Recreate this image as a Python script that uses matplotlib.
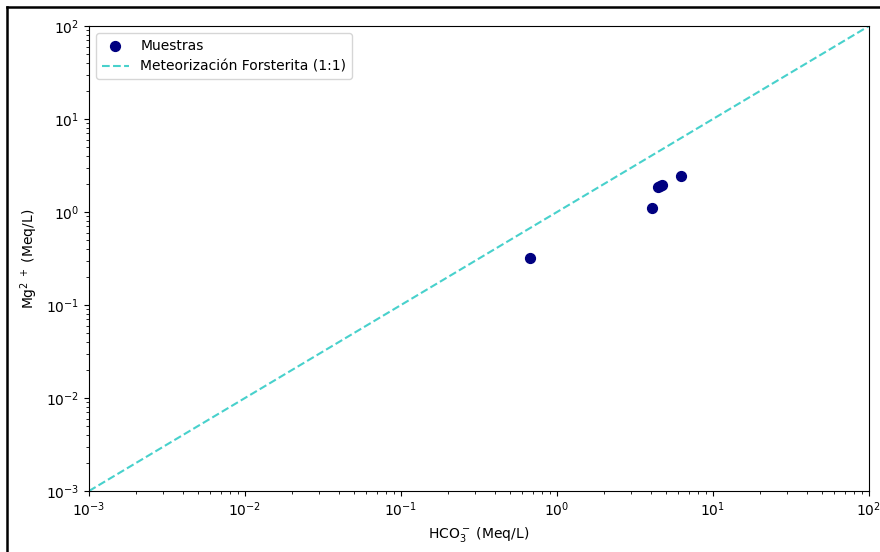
import matplotlib
matplotlib.use("Agg")
import matplotlib.pyplot as plt
from matplotlib.lines import Line2D

hco3 = [0.67, 4.06, 4.45, 4.70, 4.60, 6.24]
mg = [0.32, 1.10, 1.86, 1.94, 1.90, 2.44]
line_x = [1e-3, 1e2]
line_y = [1e-3, 1e2]

fig = plt.figure(figsize=(8.8, 5.52), dpi=100)
ax = fig.add_axes([89/880, 1-491/552, (869-89)/880, (491-26)/552])
ax.scatter(hco3, mg, color="navy", s=50, label="Muestras", zorder=3)
ax.plot(line_x, line_y, linestyle="--", color="mediumturquoise", linewidth=1.5,
        label="Meteorización Forsterita (1:1)")
ax.set_xscale("log")
ax.set_yscale("log")
ax.set_xlim(1e-3, 1e2)
ax.set_ylim(1e-3, 1e2)
ax.set_xlabel(r"HCO$_3^-$ (Meq/L)")
ax.set_ylabel(r"Mg$^{2\ +}$ (Meq/L)")
ax.legend(loc="upper left")

# screenshot frame (left and top edges)
fig.add_artist(Line2D([7/880, 7/880], [0, 1-7/552], transform=fig.transFigure, color="black", linewidth=1.8))
fig.add_artist(Line2D([7/880, 1], [1-7/552, 1-7/552], transform=fig.transFigure, color="black", linewidth=1.8))

fig.savefig("out.png", dpi=100)
